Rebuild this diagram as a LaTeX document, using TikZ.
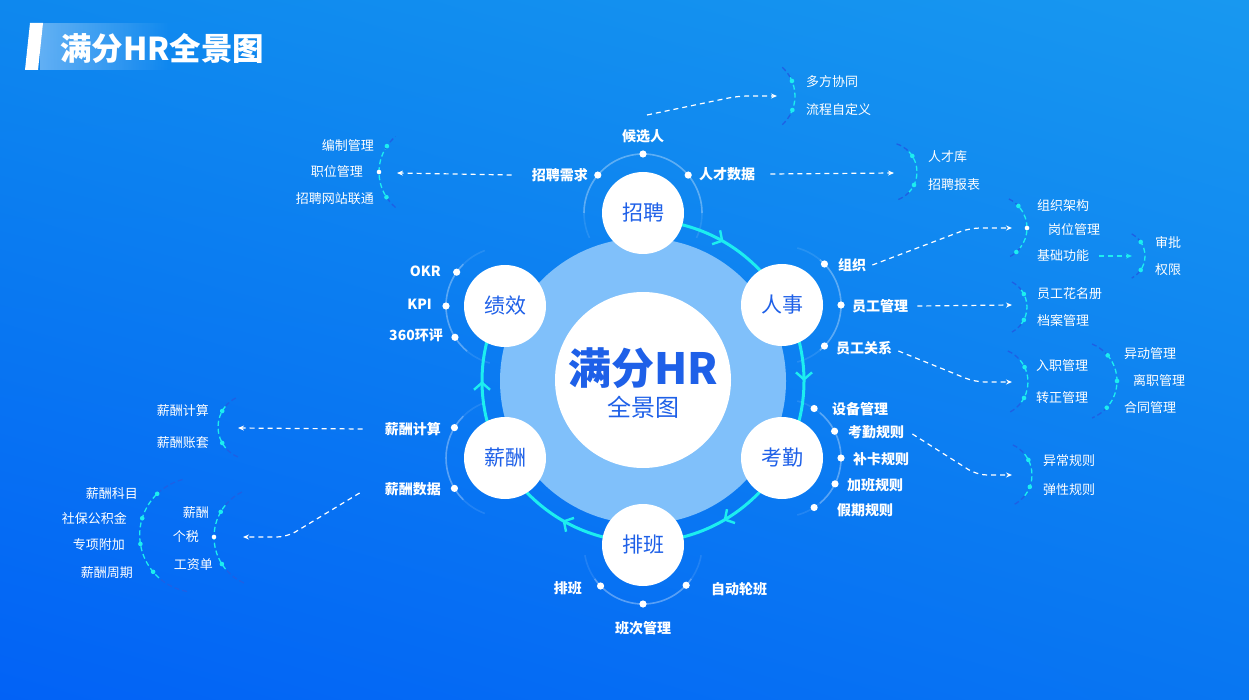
\documentclass[tikz,border=0pt]{standalone}
\usepackage{fontspec}
\setmainfont{Noto Sans CJK SC}
\usepackage{tikz}
\usetikzlibrary{arrows.meta,decorations.markings,fadings,shadings}
\definecolor{bgtl}{RGB}{14,136,238}
\definecolor{bgtr}{RGB}{24,152,240}
\definecolor{bgbl}{RGB}{2,98,246}
\definecolor{bgbr}{RGB}{8,118,242}
\definecolor{ringc}{RGB}{28,238,240}
\definecolor{pale}{RGB}{128,192,250}
\definecolor{modtxt}{RGB}{30,96,232}
\definecolor{brkdark}{RGB}{30,96,228}
\tikzset{mod/.style={circle, fill=white, minimum size=82pt, inner sep=0pt, text=modtxt, font=\fontsize{21}{21}\selectfont},
	itm/.style={text=white, inner sep=0pt, font=\fontsize{14}{14}\selectfont\bfseries},
	sub/.style={text=white, inner sep=0pt, font=\fontsize{13}{13}\selectfont},
	lnk/.style={white, dash pattern=on 5pt off 4pt, line width=1.2pt, rounded corners=10pt, -{Stealth[length=6pt,width=5pt]}},
	halo/.style={white, line width=1.6pt},
	brk/.style={dash pattern=on 5pt off 3pt, line width=1.3pt}}
\newcommand{\modarc}[4]{%
	\draw[halo, opacity=.1] (#1,#2) ++(#3:59) arc[start angle=#3, end angle=#4, radius=59];
	\draw[halo, opacity=.25] (#1,#2) ++({#3+25}:59) arc[start angle={#3+25}, end angle={#4-25}, radius=59];}
\newcommand{\brkt}[5]{%
	\draw[brk, brkdark] (#1,#2) ++(#4:#3) arc[start angle=#4, end angle={#4+(#5-#4)*0.2}, radius=#3];
	\draw[brk, ringc] (#1,#2) ++({#4+(#5-#4)*0.2}:#3) arc[start angle={#4+(#5-#4)*0.2}, end angle={#5-(#5-#4)*0.2}, radius=#3];
	\draw[brk, brkdark] (#1,#2) ++({#5-(#5-#4)*0.2}:#3) arc[start angle={#5-(#5-#4)*0.2}, end angle=#5, radius=#3];}
\newcommand{\bdots}[4]{\foreach \ang in {#4} {\fill[ringc] (#1,#2) ++(\ang:#3) circle[radius=2.3];}}
\newcommand{\mdots}[3]{\foreach \ang in {#3} {\fill[white] (#1,#2) ++(\ang:59) circle[radius=3.6];}}

\begin{document}
\begin{tikzpicture}[x=1pt, y=-1pt, line join=round]
	\useasboundingbox (0,0) rectangle (1249,700);
	\shade[upper left=bgtl, upper right=bgtr, lower left=bgbl, lower right=bgbr] (0,0) rectangle (1249,700);

	% title
	\fill[white, path fading=east, opacity=.35] (40,23) rectangle (170,70);
	\fill[white] (30,23) -- (43,23) -- (38,70) -- (25,70) -- cycle;
	\node[anchor=west, text=white, inner sep=0pt, font=\fontsize{31.5}{31.5}\selectfont\bfseries] (title) at (60,48) {满分HR全景图};

	% faint arcs round the modules
	\modarc{643}{213}{155}{385}
	\modarc{505}{306}{105}{250}
	\modarc{505}{458}{110}{250}
	\modarc{643}{545}{10}{170}
	\modarc{782}{305}{-75}{75}
	\modarc{782}{458}{-75}{75}

	% centre
	\fill[pale] (643,381) circle[radius=143];
	\draw[ringc, line width=3pt, postaction={decorate}, decoration={markings,
		mark=between positions 0.1007 and 0.91 step 0.2013 with {\arrow{Straight Barb[length=7pt,width=16pt,line width=2.4pt]}}}]
		(643,381) ++(-90:161) arc[start angle=-90, end angle=208, radius=161];
	\node[circle, fill=white, minimum size=176pt, inner sep=0pt] (core) at (643,380) {};
	\node[text=modtxt, inner sep=0pt, font=\fontsize{43}{43}\selectfont\bfseries] (coretop) at (643,368) {满分HR};
	\node[text=modtxt, inner sep=0pt, font=\fontsize{24}{24}\selectfont] (corebot) at (643,407) {全景图};

	% modules
	\node[mod] (zp) at (643,213) {招聘};
	\node[mod] (rs) at (782,305) {人事};
	\node[mod] (kq) at (782,458) {考勤};
	\node[mod] (pb) at (643,545) {排班};
	\node[mod] (xc) at (505,458) {薪酬};
	\node[mod] (jx) at (505,306) {绩效};

	\mdots{643}{213}{-140,-90,-40}
	\mdots{505}{306}{215,180,148}
	\mdots{505}{458}{211,149}
	\mdots{643}{545}{43,90,136}
	\mdots{782}{305}{-44,0,44}
	\mdots{782}{458}{-57,-27,0,26,57}

	% module items
	\node[itm] (hxr) at (643,136) {候选人};
	\node[itm, anchor=east] (zpxq) at (588,175) {招聘需求};
	\node[itm, anchor=west] (rcsj) at (699,174) {人才数据};
	\node[itm, anchor=east] (okr) at (441,271) {OKR};
	\node[itm, anchor=east] (kpi) at (432,304) {KPI};
	\node[itm, anchor=east] (hp) at (443,335) {360环评};
	\node[itm, anchor=west] (zz) at (838,265) {组织};
	\node[itm, anchor=west] (yggl) at (852,306) {员工管理};
	\node[itm, anchor=west] (yggx) at (836,348) {员工关系};
	\node[itm, anchor=west] (sbgl) at (832,409) {设备管理};
	\node[itm, anchor=west] (kqgz) at (848,432) {考勤规则};
	\node[itm, anchor=west] (bkgz) at (853,459) {补卡规则};
	\node[itm, anchor=west] (jbgz) at (847,485) {加班规则};
	\node[itm, anchor=west] (jqgz) at (837,510) {假期规则};
	\node[itm, anchor=east] (pbi) at (582,588) {排班};
	\node[itm] (bcgl) at (643,628) {班次管理};
	\node[itm, anchor=west] (zdlb) at (711,589) {自动轮班};
	\node[itm, anchor=east] (xcjs) at (441,429) {薪酬计算};
	\node[itm, anchor=east] (xcsj) at (441,489) {薪酬数据};

	% brackets
	\brkt{756.4}{96}{38.6}{-48}{48}
	\bdots{756.4}{96}{38.6}{-22.9,21.3}
	\brkt{887.4}{172}{29.6}{-72}{72}
	\bdots{887.4}{172}{29.6}{-32.7,26}
	\brkt{425.3}{172}{46.3}{130}{230}
	\bdots{425.3}{172}{46.3}{214,147}
	\fill[white] (379,172) circle[radius=2.3];
	\brkt{994.6}{228}{32.4}{-64}{64}
	\bdots{994.6}{228}{32.4}{-42.8,47.8}
	\fill[white] (1027,228) circle[radius=2.3];
	\brkt{1119.9}{256}{25.1}{-62}{62}
	\bdots{1119.9}{256}{25.1}{-34,34}
	\brkt{998.7}{307}{28.3}{-62}{62}
	\bdots{998.7}{307}{28.3}{-27.3,27.3}
	\brkt{994}{382}{34}{-66}{66}
	\bdots{994}{382}{34}{-26,28}
	\brkt{1077.1}{381}{39.9}{-68}{68}
	\bdots{1077.1}{381}{39.9}{-40,0,42}
	\brkt{998.8}{475}{33.2}{-65}{65}
	\bdots{998.8}{475}{33.2}{-27,21}
	\brkt{250.5}{427}{32.5}{113}{247}
	\bdots{250.5}{427}{32.5}{209.5,150.5}
	\brkt{264.3}{537}{50.3}{114}{246}
	\bdots{264.3}{537}{50.3}{210,147.5}
	\fill[white] (214,537) circle[radius=2.3];
	\brkt{197}{535}{57.3}{100}{258}
	\bdots{197}{535}{57.3}{226,197,171,140}

	% sub items
	\node[sub, anchor=west] (dfxt) at (806,82) {多方协同};
	\node[sub, anchor=west] (lczdy) at (806,110) {流程自定义};
	\node[sub, anchor=west] (rck) at (928,157) {人才库};
	\node[sub, anchor=west] (zpbb) at (928,185) {招聘报表};
	\node[sub, anchor=east] (bzgl) at (374,146) {编制管理};
	\node[sub, anchor=east] (zwgl) at (363,172) {职位管理};
	\node[sub, anchor=east] (zpwz) at (374,199) {招聘网站联通};
	\node[sub, anchor=west] (zzjg) at (1037,206) {组织架构};
	\node[sub, anchor=west] (gwgl) at (1048,230) {岗位管理};
	\node[sub, anchor=west] (jcgn) at (1037,256) {基础功能};
	\node[sub, anchor=west] (sp) at (1155,243) {审批};
	\node[sub, anchor=west] (qx) at (1155,270) {权限};
	\node[sub, anchor=west] (hmc) at (1037,294) {员工花名册};
	\node[sub, anchor=west] (dagl) at (1037,321) {档案管理};
	\node[sub, anchor=west] (rzgl) at (1036,366) {入职管理};
	\node[sub, anchor=west] (zzgl) at (1036,398) {转正管理};
	\node[sub, anchor=west] (ydgl) at (1124,354) {异动管理};
	\node[sub, anchor=west] (lzgl) at (1133,381) {离职管理};
	\node[sub, anchor=west] (htgl) at (1124,408) {合同管理};
	\node[sub, anchor=west] (ycgz) at (1043,461) {异常规则};
	\node[sub, anchor=west] (txgz) at (1043,490) {弹性规则};
	\node[sub, anchor=east] (xcjs2) at (209,411) {薪酬计算};
	\node[sub, anchor=east] (xczt) at (209,443) {薪酬账套};
	\node[sub, anchor=east] (xc2) at (209,513) {薪酬};
	\node[sub, anchor=east] (gs) at (199,537) {个税};
	\node[sub, anchor=east] (gzd) at (213,565) {工资单};
	\node[sub, anchor=east] (xckm) at (138,494) {薪酬科目};
	\node[sub, anchor=east] (sbgjj) at (127,519) {社保公积金};
	\node[sub, anchor=east] (zxfj) at (125,545) {专项附加};
	\node[sub, anchor=east] (xczq) at (133,573) {薪酬周期};

	% links
	\coordinate (s1) at (647,115);
	\coordinate (t1) at (777,96);
	\coordinate (t2) at (894,173);
	\coordinate (t3) at (397,173);
	\coordinate (t4) at (1012,228);
	\coordinate (t5) at (1012,305);
	\coordinate (t6) at (1012,382);
	\coordinate (t7) at (1012,475);
	\coordinate (t8) at (1132,256);
	\coordinate (t9) at (238,428);
	\coordinate (t10) at (243,537);
	\draw[lnk] (s1) -- (738,96) -- (t1);
	\draw[lnk] ([xshift=15pt]rcsj.east) -- (t2);
	\draw[lnk] ([xshift=-20pt]zpxq.west) -- (t3);
	\draw[lnk] ([xshift=6pt]zz.east) -- (970,228) -- (t4);
	\draw[lnk] ([xshift=9pt]yggl.east) -- (t5);
	\draw[lnk] ([shift={(6pt,-3pt)}]yggx.east) -- (975,382) -- (t6);
	\draw[lnk] ([shift={(8pt,-2pt)}]kqgz.east) -- (977,475) -- (t7);
	\draw[lnk, ringc] ([xshift=10pt]jcgn.east) -- (t8);
	\draw[lnk] ([xshift=-22pt]xcjs.west) -- (t9);
	\draw[lnk] ([shift={(-25pt,-4pt)}]xcsj.west) -- (287,537) -- (t10);
\end{tikzpicture}
\end{document}
